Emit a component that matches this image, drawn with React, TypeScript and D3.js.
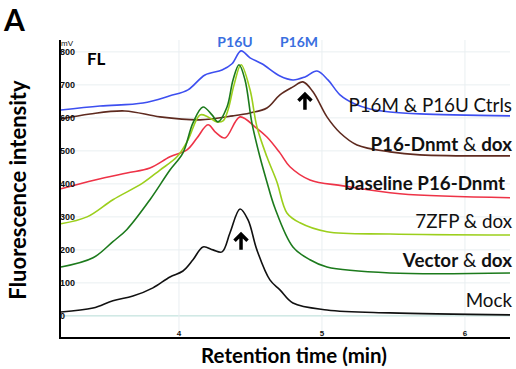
import React, { useEffect, useRef } from "react";
import * as d3 from "d3";

// retention time (min) / signal (mV)
const ctrlT = [3.175, 3.448, 3.748, 3.937, 4.063, 4.182, 4.301, 4.371, 4.434, 4.497, 4.58, 4.706, 4.797, 4.881, 4.965, 5.042, 5.126, 5.231, 5.336, 5.476, 5.685, 6.315];
const ctrlV = [624, 636, 645, 667, 685, 730, 745, 764, 803, 782, 764, 727, 715, 724, 742, 715, 670, 642, 627, 618, 612, 606];

const dnmtDoxT = [3.175, 3.378, 3.622, 3.867, 4.147, 4.378, 4.497, 4.615, 4.706, 4.797, 4.867, 4.937, 5.035, 5.126, 5.245, 5.476, 5.685, 6.315];
const dnmtDoxV = [597, 612, 621, 603, 594, 606, 615, 630, 670, 694, 709, 679, 603, 555, 518, 497, 488, 485];

const baseT = [3.175, 3.413, 3.636, 3.797, 3.937, 4.056, 4.126, 4.203, 4.259, 4.322, 4.427, 4.531, 4.615, 4.706, 4.776, 4.916, 5.147, 5.545, 6.315];
const baseV = [385, 412, 433, 448, 482, 503, 539, 579, 555, 539, 603, 573, 542, 494, 452, 412, 394, 370, 358];

const zfpT = [3.175, 3.357, 3.538, 3.748, 3.867, 3.986, 4.063, 4.147, 4.203, 4.266, 4.308, 4.343, 4.385, 4.434, 4.497, 4.545, 4.615, 4.685, 4.755, 4.846, 5.035, 5.476, 6.315];
const zfpV = [279, 300, 352, 403, 442, 482, 533, 609, 603, 588, 591, 624, 700, 761, 685, 573, 482, 406, 312, 282, 255, 248, 245];

const vecT = [3.175, 3.399, 3.538, 3.636, 3.797, 3.937, 4.028, 4.098, 4.168, 4.231, 4.273, 4.336, 4.378, 4.42, 4.462, 4.51, 4.566, 4.615, 4.671, 4.797, 4.916, 5.035, 5.476, 6.315];
const vecV = [148, 176, 225, 262, 352, 442, 494, 585, 633, 609, 588, 633, 715, 761, 715, 585, 482, 406, 327, 209, 170, 148, 130, 130];

const mockT = [3.175, 3.399, 3.538, 3.678, 3.818, 3.937, 4.028, 4.098, 4.168, 4.238, 4.301, 4.357, 4.427, 4.483, 4.545, 4.636, 4.706, 4.797, 5.035, 5.476, 6.315];
const mockV = [12, 24, 46, 60, 85, 118, 136, 170, 209, 200, 194, 252, 324, 291, 200, 109, 79, 39, 18, 9, 3];

const yTicks = [0, 100, 200, 300, 400, 500, 600, 700, 800];
const xTicks = [4, 5, 6];

// arrow tips (time, mV)
const arrowT = [4.434, 4.881];
const arrowV = [252, 676];

function Chromatogram() {
  const ref = useRef<SVGGElement | null>(null);

  useEffect(() => {
    document.body.style.margin = "0";
    const g = d3.select(ref.current);
    g.selectAll("*").remove();

    const x = d3.scaleLinear().domain([3.175, 6.315]).range([61, 510]);
    const y = d3.scaleLinear().domain([-67, 836]).range([338, 40]);

    // grid
    g.append("g")
      .selectAll("line")
      .data(yTicks)
      .enter()
      .append("line")
      .attr("x1", 61).attr("x2", 510)
      .attr("y1", (d) => y(d)).attr("y2", (d) => y(d))
      .attr("stroke", (d) => (d === 0 ? "#b5dcd6" : "#e9eff1"))
      .attr("stroke-width", 1);
    g.append("g")
      .selectAll("line")
      .data(xTicks)
      .enter()
      .append("line")
      .attr("x1", (d) => x(d)).attr("x2", (d) => x(d))
      .attr("y1", 40).attr("y2", 338)
      .attr("stroke", "#e9eff1")
      .attr("stroke-width", 1);

    const traces = [
      { t: ctrlT, v: ctrlV, color: "#3d4ff0" },
      { t: dnmtDoxT, v: dnmtDoxV, color: "#5e2a1f" },
      { t: baseT, v: baseV, color: "#ee3347" },
      { t: zfpT, v: zfpV, color: "#9ccf1c" },
      { t: vecT, v: vecV, color: "#1c7a1c" },
      { t: mockT, v: mockV, color: "#111111" },
    ];

    const line = d3.line<[number, number]>()
      .x((d) => x(d[0]))
      .y((d) => y(d[1]))
      .curve(d3.curveCatmullRom.alpha(0.5));

    traces.forEach((s) => {
      g.append("path")
        .datum(s.t.map((t, i) => [t, s.v[i]] as [number, number]))
        .attr("d", line)
        .attr("fill", "none")
        .attr("stroke", s.color)
        .attr("stroke-width", 1.6);
    });

    // axes
    g.append("line").attr("x1", 60).attr("x2", 60).attr("y1", 40).attr("y2", 339)
      .attr("stroke", "#000").attr("stroke-width", 2);
    g.append("line").attr("x1", 59).attr("x2", 510).attr("y1", 338).attr("y2", 338)
      .attr("stroke", "#000").attr("stroke-width", 2);

    const tickFont = "'Liberation Sans Narrow', 'Liberation Sans', sans-serif";
    g.append("g")
      .selectAll("text")
      .data(yTicks)
      .enter()
      .append("text")
      .text((d) => d)
      .attr("x", 60)
      .attr("y", (d) => y(d) + 3)
      .attr("font-family", tickFont)
      .attr("font-weight", "bold")
      .attr("font-size", 9)
      .attr("fill", "#111");
    g.append("text").text("mV").attr("x", 61).attr("y", 46)
      .attr("font-family", tickFont).attr("font-size", 8).attr("fill", "#111");

    g.append("g")
      .selectAll("text")
      .data(xTicks)
      .enter()
      .append("text")
      .text((d) => d)
      .attr("x", (d) => x(d))
      .attr("y", 336)
      .attr("text-anchor", "middle")
      .attr("font-family", tickFont)
      .attr("font-weight", "bold")
      .attr("font-size", 8)
      .attr("fill", "#111");

    // arrows
    arrowT.forEach((t, i) => {
      const ax = x(t);
      const ay = y(arrowV[i]);
      g.append("path")
        .attr("d", `M${ax},${ay + 2} L${ax},${ay + 17} M${ax - 6.5},${ay + 8} L${ax},${ay + 1.5} L${ax + 6.5},${ay + 8}`)
        .attr("fill", "none")
        .attr("stroke", "#000")
        .attr("stroke-width", 3.5);
    });
  }, []);

  const font = "Lato, 'Open Sans', sans-serif";
  const lbl = { fontFamily: font, fontSize: 18.8, fill: "#111" } as React.CSSProperties;

  return (
    <svg width={516} height={369} style={{ position: "absolute", left: 0, top: 0, background: "#fff" }}>
      <g ref={ref} />
      <text x={4} y={31} fontFamily={font} fontWeight="bold" fontSize={30} fill="#000">A</text>
      <text x={87} y={65} fontFamily={font} fontWeight="bold" fontSize={17} fill="#000">FL</text>
      <text x={235} y={47} textAnchor="middle" fontFamily={font} fontWeight="bold" fontSize={14} fill="#3a6fe0">P16U</text>
      <text x={299} y={47} textAnchor="middle" fontFamily={font} fontWeight="bold" fontSize={14} fill="#3a6fe0">P16M</text>

      <text x={512} y={112} textAnchor="end" style={lbl}>P16M &amp; P16U Ctrls</text>
      <text x={512} y={151} textAnchor="end" style={lbl}>
        <tspan fontWeight="bold">P16-Dnmt</tspan> &amp; <tspan fontWeight="bold">dox</tspan>
      </text>
      <text x={505} y={190} textAnchor="end" style={lbl} fontWeight="bold">baseline P16-Dnmt</text>
      <text x={512} y={228} textAnchor="end" style={lbl}>7ZFP &amp; dox</text>
      <text x={512} y={267} textAnchor="end" style={lbl}>
        <tspan fontWeight="bold">Vector</tspan> &amp; <tspan fontWeight="bold">dox</tspan>
      </text>
      <text x={512} y={307} textAnchor="end" style={lbl}>Mock</text>

      <text x={294} y={363} textAnchor="middle" fontFamily={font} fontWeight="bold" fontSize={20.5} fill="#000">Retention time (min)</text>
      <text transform="translate(26,190) rotate(-90)" textAnchor="middle" fontFamily={font} fontWeight="bold" fontSize={22} fill="#000">Fluorescence intensity</text>
    </svg>
  );
}

export default function App() {
  return <Chromatogram />;
}
